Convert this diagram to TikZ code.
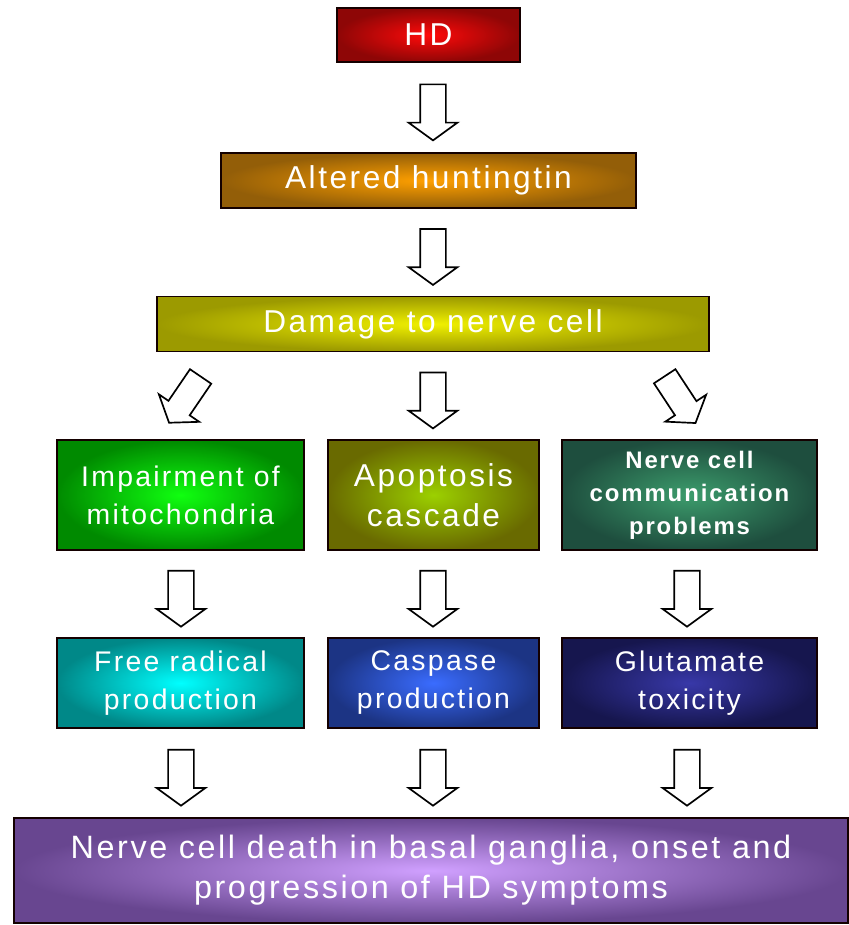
\documentclass[tikz,border=0pt]{standalone}
\usepackage{fontspec}
\setmainfont{Liberation Sans}[LetterSpace=8]
\usetikzlibrary{shapes.arrows, calc}

% box colours (glow / rim)
\definecolor{hdIn}{HTML}{FF0A0A}      \definecolor{hdOut}{HTML}{8E0606}
\definecolor{altIn}{HTML}{FFA000}     \definecolor{altOut}{HTML}{935E08}
\definecolor{dmgIn}{HTML}{F0F000}     \definecolor{dmgOut}{HTML}{9C9A00}
\definecolor{impIn}{HTML}{10FF10}     \definecolor{impOut}{HTML}{008A00}
\definecolor{apoIn}{HTML}{9CD000}     \definecolor{apoOut}{HTML}{696A00}
\definecolor{nccIn}{HTML}{3C9C6C}     \definecolor{nccOut}{HTML}{1E4E3E}
\definecolor{frpIn}{HTML}{00FFFF}     \definecolor{frpOut}{HTML}{008888}
\definecolor{casIn}{HTML}{3A6CFF}     \definecolor{casOut}{HTML}{1C3484}
\definecolor{gluIn}{HTML}{3838A8}     \definecolor{gluOut}{HTML}{16164E}
\definecolor{dthIn}{HTML}{D0A0FF}     \definecolor{dthOut}{HTML}{684690}
\definecolor{rim}{HTML}{140000}

\begin{document}
\begin{tikzpicture}[x=0.025cm, y=-0.025cm,
  box/.style={draw=rim, line width=1.4pt, text=white, align=center, inner sep=0pt},
  wide/.style={box, minimum height=1.375cm},
  tall/.style={box, minimum height=2.75cm},
  flat/.style={box, minimum height=2.25cm},
  big/.style={font=\fontsize{22.5}{28.5}\selectfont},
  mid/.style={font=\fontsize{20.2}{27}\selectfont},
  small/.style={font=\bfseries\fontsize{17}{23.5}\selectfont},
  hollow/.style={single arrow, draw=black, fill=white, line width=1.2pt,
    minimum height=1.4cm, minimum width=1.175cm,
    inner xsep=0pt, inner ysep=0.3cm,
    single arrow head extend=0.29cm, single arrow tip angle=108,
    sloped, allow upside down}]
\useasboundingbox (0,0) rectangle (848,925);

% top chain
\node[box, big, minimum width=4.575cm, minimum height=1.35cm, line width=2pt,
  inner color=hdIn, outer color=hdOut] (hd) at (428.5,35) {HD};
\node[wide, big, minimum width=10.375cm,
  inner color=altIn, outer color=altOut] (alt) at (428.5,180.5) {Altered huntingtin};
\node[wide, big, minimum width=13.8cm,
  inner color=dmgIn, outer color=dmgOut] (dmg) at (433,324) {Damage to nerve cell};

% first row
\node[tall, mid, minimum width=6.175cm,
  inner color=impIn, outer color=impOut] (imp) at (180.5,495) {Impairment of\\mitochondria};
\node[tall, big, minimum width=5.275cm,
  inner color=apoIn, outer color=apoOut] (apo) at (433.5,495) {Apoptosis\\cascade};
\node[tall, small, minimum width=6.375cm,
  inner color=nccIn, outer color=nccOut] (ncc) at (689.5,495) {Nerve cell\\communication\\problems};

% second row
\node[flat, mid, minimum width=6.175cm,
  inner color=frpIn, outer color=frpOut] (frp) at (180.5,683) {Free radical\\production};
\node[flat, mid, minimum width=5.275cm,
  inner color=casIn, outer color=casOut] (cas) at (433.5,683) {Caspase\\production};
\node[flat, mid, minimum width=6.375cm,
  inner color=gluIn, outer color=gluOut] (glu) at (689.5,683) {Glutamate\\toxicity};

% outcome
\node[box, font=\fontsize{23}{28.5}\selectfont, minimum width=20.85cm, minimum height=2.625cm,
  inner color=dthIn, outer color=dthOut] (dth) at (431,870.5)
  {Nerve cell death in basal ganglia, onset and\\progression of HD symptoms};

% arrow columns
\coordinate (colL) at (181,0);
\coordinate (colM) at (433,0);
\coordinate (colR) at (687,0);

\path (hd.south -| colM) -- (alt.north -| colM) node[hollow, midway] (a1) {};
\path (alt.south -| colM) -- (dmg.north -| colM) node[hollow, midway] (a2) {};

\path ($(dmg.south west)+(61,0)$) -- ($(imp.north west)+(102,0)$)
  node[hollow, midway] (a3) {};
\path (dmg.south -| colM) -- (apo.north -| colM) node[hollow, midway] (a4) {};
\path ($(dmg.south east)+(-61,0)$) -- ($(ncc.north west)+(145,0)$)
  node[hollow, midway] (a5) {};

\path (imp.south -| colL) -- (frp.north -| colL) node[hollow, midway] (a6) {};
\path (apo.south -| colM) -- (cas.north -| colM) node[hollow, midway] (a7) {};
\path (ncc.south -| colR) -- (glu.north -| colR) node[hollow, midway] (a8) {};

\path (frp.south -| colL) -- (dth.north -| colL) node[hollow, midway] (a9) {};
\path (cas.south -| colM) -- (dth.north -| colM) node[hollow, midway] (a10) {};
\path (glu.south -| colR) -- (dth.north -| colR) node[hollow, midway] (a11) {};

\end{tikzpicture}
\end{document}
